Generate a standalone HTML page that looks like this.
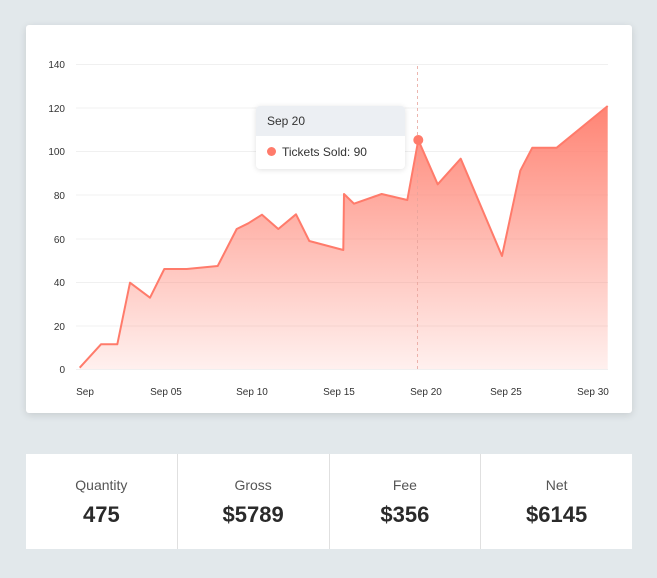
<!DOCTYPE html>
<html><head><meta charset="utf-8"><style>
body{margin:0;width:657px;height:578px;background:#e2e8eb;font-family:"Liberation Sans",sans-serif;position:relative;overflow:hidden}
.card{position:absolute;left:26px;top:25px;width:606px;height:388px;background:#fff;border-radius:3px;box-shadow:0 2px 8px rgba(0,0,0,.12)}
svg{position:absolute;left:0;top:0}
.tip{position:absolute;left:256px;top:106px;width:149px;height:63px;background:#fff;border-radius:4px;box-shadow:0 1px 6px rgba(0,0,0,.12);overflow:hidden;font-size:12px;color:#333}
.tip .h{background:#eceff3;height:30px;line-height:30px;padding-left:11px}
.tip .b{height:33px;line-height:32px;padding-left:11px}
.tip .d{display:inline-block;width:9px;height:9px;border-radius:50%;background:#ff7b6b;margin-right:6px}
.stats{position:absolute;left:26px;top:454px;width:606px;height:95px;background:#fff;display:flex}
.stats>div{flex:1;text-align:center;border-left:1px solid #e0e0e0}
.stats>div:first-child{border-left:none}
.l{font-size:14px;color:#555;margin-top:23px}
.v{font-size:22px;font-weight:bold;color:#2a2a2a;margin-top:9px}
</style></head><body>
<div class="card"></div>
<svg width="657" height="578" font-family="Liberation Sans, sans-serif">
<defs><linearGradient id="g" gradientUnits="userSpaceOnUse" x1="0" y1="106" x2="0" y2="369">
<stop offset="0" stop-color="#ff8474"/><stop offset="1" stop-color="#ff8474" stop-opacity="0.12"/></linearGradient></defs>
<g stroke="#f0f0f0" stroke-width="1">
<line x1="76" x2="608" y1="64.5" y2="64.5"/><line x1="76" x2="608" y1="108" y2="108"/><line x1="76" x2="608" y1="151.5" y2="151.5"/><line x1="76" x2="608" y1="195" y2="195"/><line x1="76" x2="608" y1="239" y2="239"/><line x1="76" x2="608" y1="282.5" y2="282.5"/><line x1="76" x2="608" y1="326" y2="326"/><line x1="76" x2="608" y1="369.5" y2="369.5"/>
</g>
<g font-size="10" fill="#333" text-anchor="end">
<text x="65" y="68">140</text><text x="65" y="112">120</text><text x="65" y="155">100</text><text x="65" y="199">80</text><text x="65" y="243">60</text><text x="65" y="286">40</text><text x="65" y="330">20</text><text x="65" y="373">0</text>
</g>
<g font-size="10" fill="#333" text-anchor="middle">
<text x="85" y="395">Sep</text><text x="166" y="395">Sep 05</text><text x="252" y="395">Sep 10</text><text x="339" y="395">Sep 15</text><text x="426" y="395">Sep 20</text><text x="506" y="395">Sep 25</text><text x="593" y="395">Sep 30</text>
</g>
<path fill="url(#g)" d="M79.7,367.7 L101,344.3 L117.3,344.3 L130,282.7 L150,297.7 L164.3,269 L186.7,269 L217.7,266 L236.7,229 L248.3,223.3 L262,214.7 L278.3,229 L296,214.3 L309.3,241 L343.3,250 L344,194 L354,203.7 L381.7,194 L407.3,200 L418.3,140 L437.7,184.3 L460.7,158.7 L502,256 L520.3,170.7 L532.3,147.7 L556.7,147.7 L607.7,106 L607.7,369 L79.7,369 Z"/>
<line x1="417.5" x2="417.5" y1="66" y2="369" stroke="#e8a49c" stroke-dasharray="3,3" stroke-width="0.8"/>
<path fill="none" stroke="#ff7b6b" stroke-width="2" stroke-linejoin="round" d="M79.7,367.7 L101,344.3 L117.3,344.3 L130,282.7 L150,297.7 L164.3,269 L186.7,269 L217.7,266 L236.7,229 L248.3,223.3 L262,214.7 L278.3,229 L296,214.3 L309.3,241 L343.3,250 L344,194 L354,203.7 L381.7,194 L407.3,200 L418.3,140 L437.7,184.3 L460.7,158.7 L502,256 L520.3,170.7 L532.3,147.7 L556.7,147.7 L607.7,106"/>
<circle cx="418.3" cy="140" r="5" fill="#ff7b6b"/>
</svg>
<div class="tip"><div class="h">Sep 20</div><div class="b"><span class="d"></span>Tickets Sold: 90</div></div>
<div class="stats">
<div><div class="l">Quantity</div><div class="v">475</div></div>
<div><div class="l">Gross</div><div class="v">$5789</div></div>
<div><div class="l">Fee</div><div class="v">$356</div></div>
<div><div class="l">Net</div><div class="v">$6145</div></div>
</div>
</body></html>
